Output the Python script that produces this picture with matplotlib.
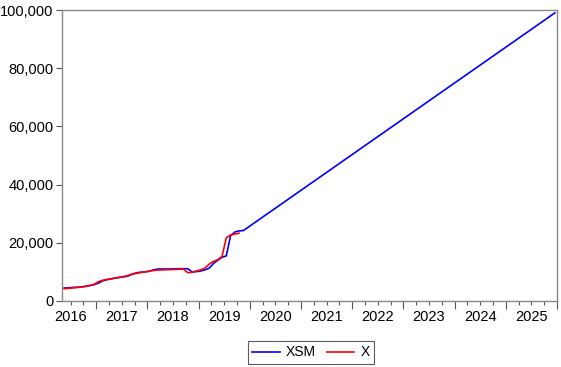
import matplotlib
matplotlib.use("Agg")
import matplotlib.pyplot as plt
from matplotlib.ticker import FuncFormatter, FixedLocator, NullFormatter

plt.rcParams['font.family'] = ['Liberation Sans', 'DejaVu Sans']

# Monthly observations starting May 2016
start_year = 2016
start_month = 5
xsm_hist = [4460, 4550, 4650, 4700, 4850, 5050, 5300, 5600, 6100, 6900, 7300, 7600,
            7900, 8100, 8300, 8600, 9200, 9700, 9900, 10000, 10300, 10700, 11000, 11000,
            11000, 11000, 11050, 11100, 11100, 11100, 9950, 10100, 10300, 10700, 11300, 12900,
            14000, 15000, 15500, 22400, 23700, 24100, 24200]
xsm_end_value = 99000  # Dec 2025
x_vals = [4230, 4350, 4500, 4650, 4800, 5000, 5300, 5700, 6600, 7100, 7400, 7650,
          7900, 8150, 8400, 8800, 9300, 9500, 9800, 10000, 10250, 10500, 10630, 10700,
          10750, 10800, 10850, 10900, 10970, 9700, 9900, 10300, 10700, 11300, 12700, 13600,
          14200, 15300, 21700, 22700, 23000, 23300]
years = list(range(2016, 2026))
yticks = [0, 20000, 40000, 60000, 80000, 100000]

def month_pos(i):
    m = start_month - 1 + i
    return start_year + (m + 0.5) / 12.0

end_index = (2025 - start_year) * 12 + 12 - start_month  # Dec 2025
xsm_t = [month_pos(i) for i in range(len(xsm_hist))] + [month_pos(end_index)]
xsm_v = xsm_hist + [xsm_end_value]
x_t = [month_pos(i) for i in range(len(x_vals))]

fig = plt.figure(figsize=(5.61, 3.67), dpi=100)
ax = fig.add_axes([62/561, 1 - 301/367, (557-62)/561, (301-10)/367])

ax.plot(xsm_t, xsm_v, color='#0000FF', lw=1.2, label='XSM')
ax.plot(x_t, x_vals, color='#FF0000', lw=1.2, label='X')

ax.set_xlim(start_year + (start_month - 1) / 12.0, 2026.0)
ax.set_ylim(0, 100000)

ax.set_yticks(yticks)
ax.yaxis.set_major_formatter(FuncFormatter(lambda v, p: f"{int(v):,}"))

# year boundaries as major ticks, quarters as minor, labels centered within years
ax.xaxis.set_major_locator(FixedLocator([y for y in range(2017, 2027)]))
ax.xaxis.set_major_formatter(NullFormatter())
minor = [y + q / 4 for y in range(2016, 2026) for q in (1, 2, 3)]
ax.xaxis.set_minor_locator(FixedLocator(minor))
ax.xaxis.set_minor_formatter(NullFormatter())
for y in years:
    ax.text(y + 0.5, -0.03, str(y), transform=ax.get_xaxis_transform(),
            ha='center', va='top', fontsize=10.5)

ax.tick_params(axis='x', which='major', length=6, width=0.8, color='#555555', direction='out')
ax.tick_params(axis='x', which='minor', length=3, width=0.8, color='#555555', direction='out')
ax.tick_params(axis='y', which='major', length=4, width=0.8, color='#555555', labelsize=10.5, pad=2)
for s in ax.spines.values():
    s.set_color('#888888')
    s.set_linewidth(1.0)

leg = fig.legend(loc='center', bbox_to_anchor=(311/561, 1 - 352.5/367), ncol=2,
                 fontsize=10, frameon=True, fancybox=False, handlelength=1.95,
                 columnspacing=0.8, handletextpad=0.45, borderpad=0.3)
leg.get_frame().set_edgecolor('#333333')
leg.get_frame().set_linewidth(0.8)

fig.savefig('out.png', dpi=100)
